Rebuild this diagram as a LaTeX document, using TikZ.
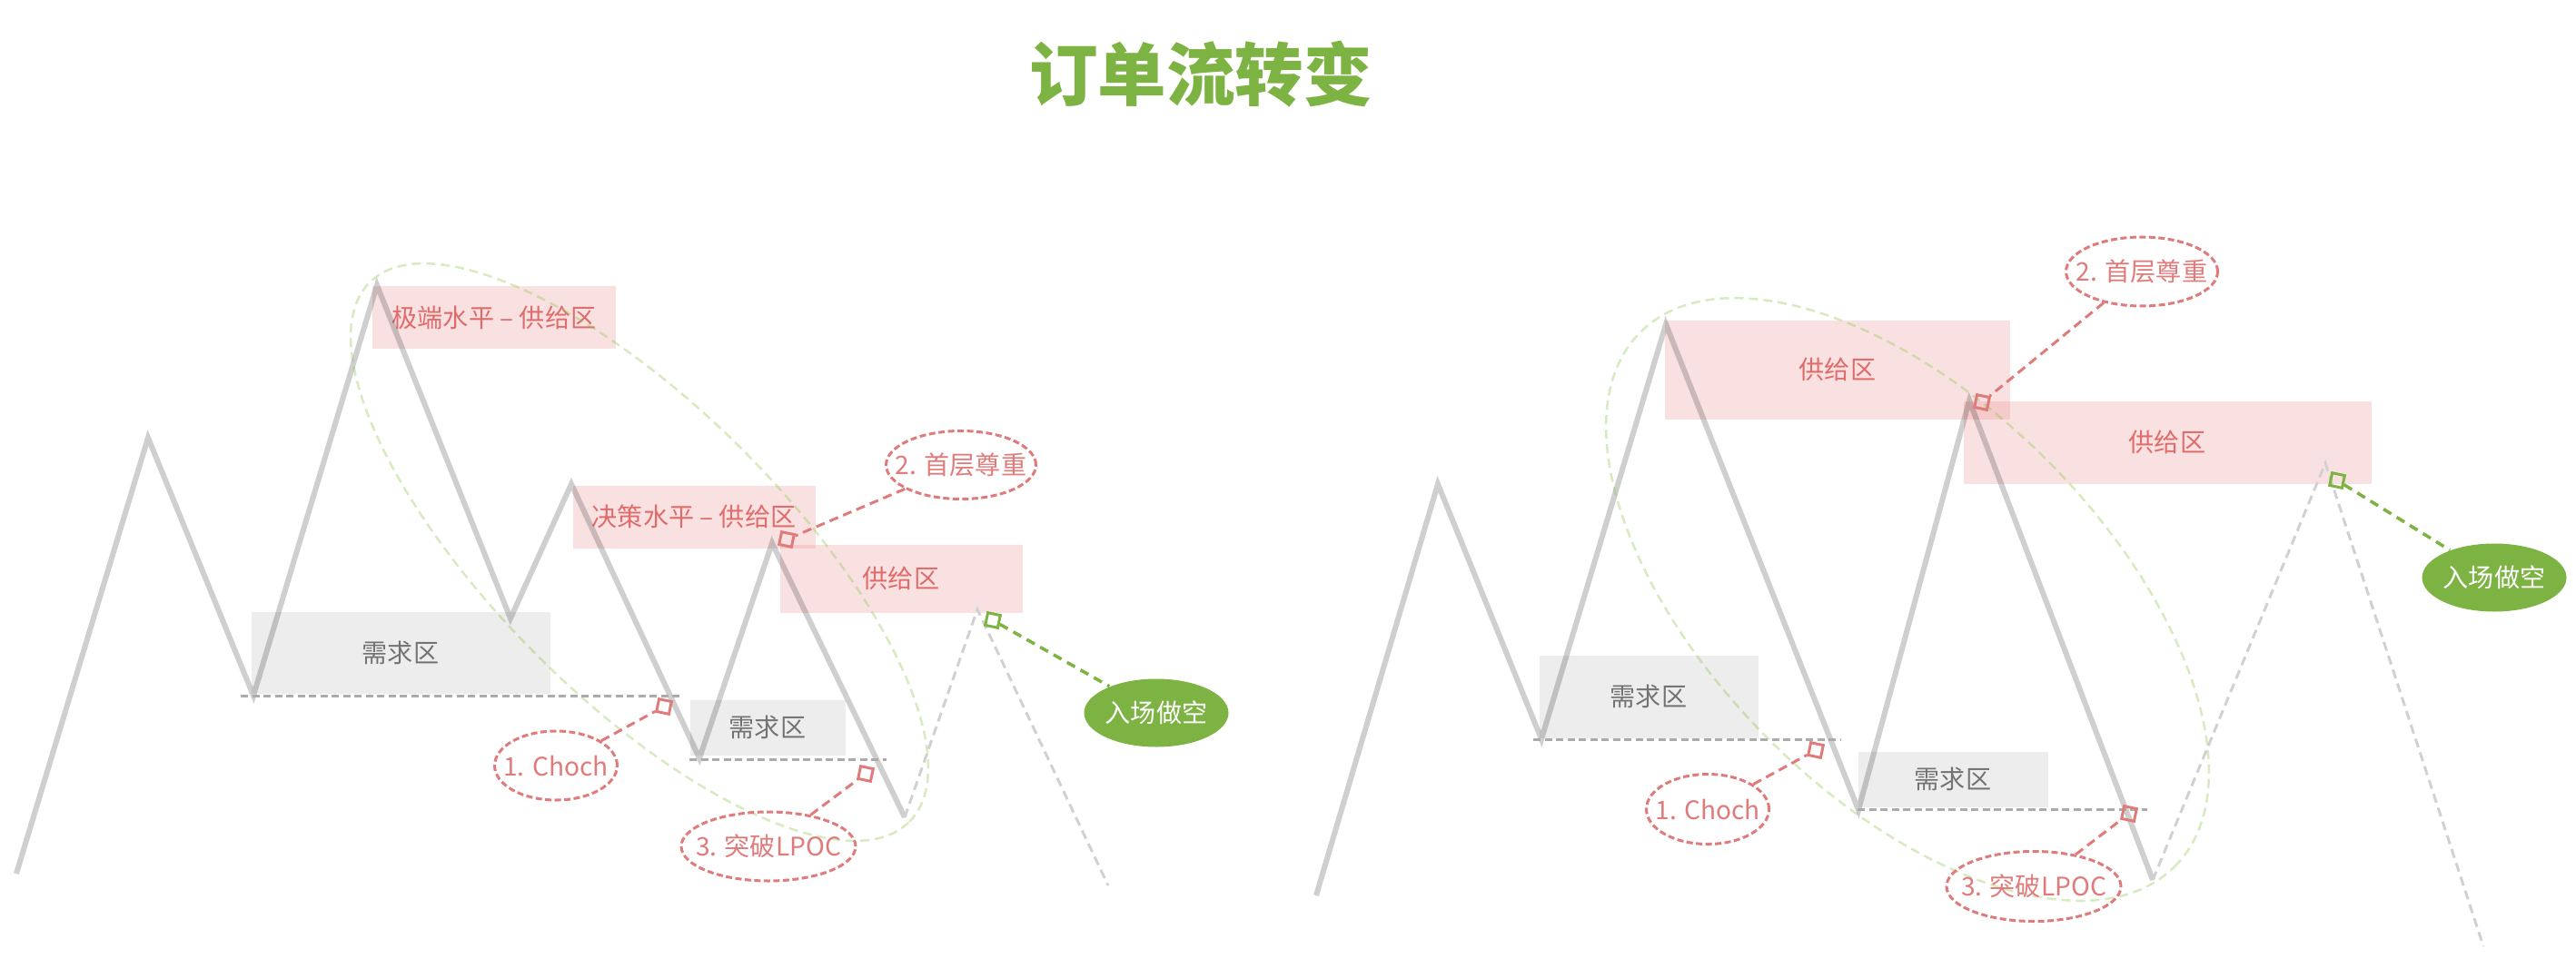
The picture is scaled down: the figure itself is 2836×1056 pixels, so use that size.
\documentclass[tikz,border=0pt]{standalone}
\usepackage{fontspec}
\setmainfont{Noto Sans CJK SC}
\usetikzlibrary{shapes.geometric}

\definecolor{supplyred}{HTML}{E06B6B}
\definecolor{orderred}{HTML}{E07B7B}
\definecolor{entrygreen}{HTML}{7CB342}
\definecolor{zonegreen}{HTML}{8BC34A}

\begin{document}
\begin{tikzpicture}[x=0.1mm,y=-0.1mm,
    every node/.style={font=\fontsize{8}{9}\selectfont},
    price/.style={line width=0.6mm,black,opacity=0.19},
    forecast/.style={line width=0.3mm,black!18,dash pattern=on 1mm off 0.6mm},
    level/.style={line width=0.3mm,black!33,dash pattern=on 0.8mm off 0.45mm},
    supply/.style={rectangle,fill=supplyred,fill opacity=0.2,text opacity=1,text=supplyred,inner sep=0pt},
    demand/.style={rectangle,fill=black!7,text=black!55,inner sep=0pt},
    hitbox/.style={rectangle,draw=orderred,line width=0.3mm,minimum size=1.4mm,inner sep=0pt,rotate=-12},
    tagoval/.style={ellipse,draw=orderred,line width=0.3mm,dash pattern=on 0.7mm off 0.35mm,inner sep=0pt},
    tagline/.style={orderred,line width=0.3mm,dash pattern=on 1mm off 0.6mm},
    entryoval/.style={ellipse,fill=entrygreen,inner sep=0pt,minimum width=15.9mm,minimum height=7.5mm},
    entryline/.style={entrygreen,line width=0.35mm,dash pattern=on 1mm off 0.7mm},
    zoneoval/.style={zonegreen,opacity=0.35,line width=0.25mm,dash pattern=on 1mm off 0.6mm}]

  \useasboundingbox (0,0) rectangle (2836,1056);

  \node[text=entrygreen,font=\fontsize{21.5}{24}\selectfont\bfseries] (title) at (1322,82) {订单流转变};

  % left chart
  \node[supply,minimum width=26.8mm,minimum height=6.9mm] (extremeL) at (544,350) {极端水平 – 供给区};
  \node[supply,minimum width=26.7mm,minimum height=6.9mm] (decisionL) at (764,569) {决策水平 – 供给区};
  \node[supply,minimum width=26.7mm,minimum height=7.5mm] (supplyL) at (992,637) {供给区};
  \node[demand,minimum width=32.9mm,minimum height=9mm] (demandLa) at (441,719) {需求区};
  \node[demand,minimum width=17.1mm,minimum height=6.1mm] (demandLb) at (845,801) {需求区};

  \coordinate (L0) at (18,962);
  \coordinate (L1) at (163,482);
  \coordinate (L2) at (279,766);
  \coordinate (L3) at (415,314);
  \coordinate (L4) at (562,681);
  \coordinate (L5) at (629,533);
  \coordinate (L6) at (770,835);
  \coordinate (L7) at (850,598);
  \coordinate (L8) at (996,900);
  \coordinate (L9) at (1076,671);
  \coordinate (L10) at (1220,975);

  \draw[price] (L0) -- (L1) -- (L2) -- (L3) -- (L4) -- (L5) -- (L6) -- (L7) -- (L8);
  \draw[forecast] (L8) -- (L9) -- (L10);

  \coordinate (lowLa) at (265,766);
  \coordinate (lowLa') at (750,766);
  \coordinate (lowLb) at (759,836);
  \coordinate (lowLb') at (976,836);
  \draw[level] (lowLa) -- (lowLa');
  \draw[level] (lowLb) -- (lowLb');

  \draw[zoneoval] (704,608) ellipse [x radius=42mm,y radius=16mm,rotate=-45];

  \node[hitbox] (chochLbox) at (731,778) {};
  \node[hitbox] (respectLbox) at (866,594) {};
  \node[hitbox] (lpocLbox) at (953,852) {};
  \node[hitbox,draw=entrygreen] (entryLbox) at (1093,683) {};

  \node[tagoval,minimum width=13.5mm,minimum height=7.6mm,
        label={[text=orderred]center:1. Choch}] (chochL) at (612,843) {};
  \node[tagoval,minimum width=16.5mm,minimum height=7.5mm,
        label={[text=orderred]center:2. 首层尊重}] (respectL) at (1058,512) {};
  \node[tagoval,minimum width=19.2mm,minimum height=7.6mm,
        label={[text=orderred]center:3. 突破LPOC}] (lpocL) at (846,932) {};
  \node[entryoval,label={[text=white]center:入场做空}] (entryL) at (1273,785) {};

  \draw[tagline] (chochL) -- (chochLbox);
  \draw[tagline] (respectL) -- (respectLbox);
  \draw[tagline] (lpocL) -- (lpocLbox);
  \draw[entryline] (entryLbox) -- (entryL);

  % right chart
  \node[supply,minimum width=38mm,minimum height=10.9mm] (supplyRa) at (2023,407) {供给区};
  \node[supply,minimum width=44.9mm,minimum height=9.1mm] (supplyRb) at (2386,487) {供给区};
  \node[demand,minimum width=24.1mm,minimum height=9.1mm] (demandRa) at (1815,767) {需求区};
  \node[demand,minimum width=20.9mm,minimum height=6.1mm] (demandRb) at (2150,858) {需求区};

  \coordinate (R0) at (1449,986);
  \coordinate (R1) at (1583,533);
  \coordinate (R2) at (1697,814);
  \coordinate (R3) at (1834,357);
  \coordinate (R4) at (2046,892);
  \coordinate (R5) at (2168,441);
  \coordinate (R6) at (2370,969);
  \coordinate (R7) at (2560,510);
  \coordinate (R8) at (2734,1042);

  \draw[price] (R0) -- (R1) -- (R2) -- (R3) -- (R4) -- (R5) -- (R6);
  \draw[forecast] (R6) -- (R7) -- (R8);

  \coordinate (lowRa) at (1688,814);
  \coordinate (lowRa') at (2027,814);
  \coordinate (lowRb) at (2045,891);
  \coordinate (lowRb') at (2364,891);
  \draw[level] (lowRa) -- (lowRa');
  \draw[level] (lowRb) -- (lowRb');

  \draw[zoneoval] (2100,660) ellipse [x radius=41.6mm,y radius=21.7mm,rotate=-45];

  \node[hitbox] (chochRbox) at (1999,826) {};
  \node[hitbox] (respectRbox) at (2182,443) {};
  \node[hitbox] (lpocRbox) at (2344,896) {};
  \node[hitbox,draw=entrygreen] (entryRbox) at (2573,529) {};

  \node[tagoval,minimum width=13.5mm,minimum height=7.7mm,
        label={[text=orderred]center:1. Choch}] (chochR) at (1880,891) {};
  \node[tagoval,minimum width=16.7mm,minimum height=7.6mm,
        label={[text=orderred]center:2. 首层尊重}] (respectR) at (2358,299) {};
  \node[tagoval,minimum width=19.2mm,minimum height=7.7mm,
        label={[text=orderred]center:3. 突破LPOC}] (lpocR) at (2239,976) {};
  \node[entryoval,label={[text=white]center:入场做空}] (entryR) at (2746,636) {};

  \draw[tagline] (chochR) -- (chochRbox);
  \draw[tagline] (respectR) -- (respectRbox);
  \draw[tagline] (lpocR) -- (lpocRbox);
  \draw[entryline] (entryRbox) -- (entryR);

\end{tikzpicture}
\end{document}
